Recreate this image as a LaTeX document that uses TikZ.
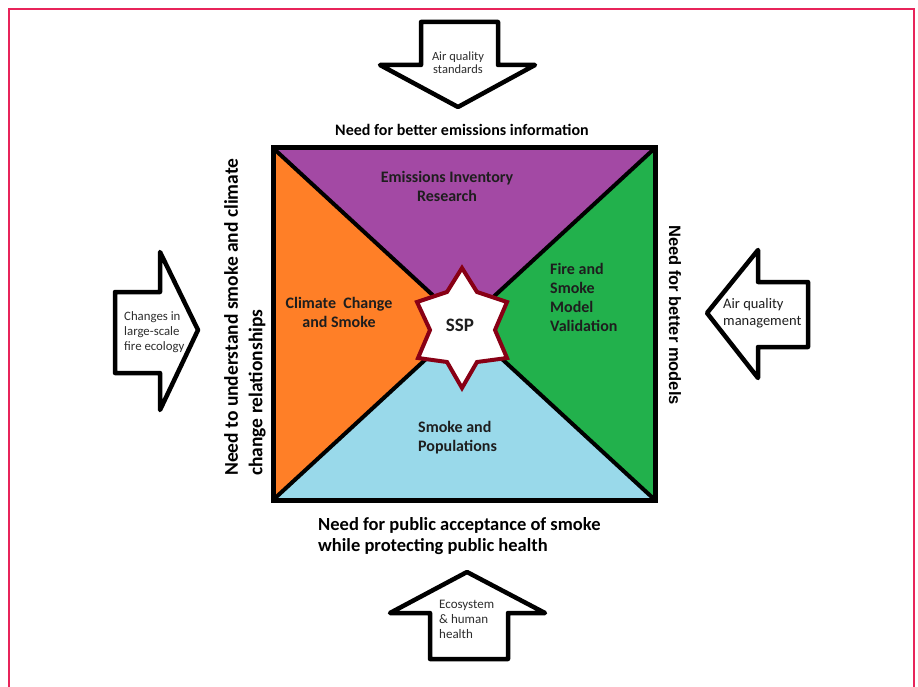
\documentclass[tikz,border=0pt]{standalone}
\usepackage{fontspec}
\setmainfont{Carlito}
\newfontfamily\arialfam{Liberation Sans}
\definecolor{framecol}{RGB}{232,36,90}
\definecolor{purp}{RGB}{163,73,164}
\definecolor{orng}{RGB}{255,127,39}
\definecolor{grn}{RGB}{34,177,76}
\definecolor{lblue}{RGB}{153,217,234}
\definecolor{starred}{RGB}{136,0,21}
\definecolor{txtdark}{RGB}{30,30,30}
\definecolor{txtgray}{RGB}{45,45,45}
\tikzset{
  bigarrow/.style={draw=black,line width=4.5pt,line join=round,fill=white},
  sqlabel/.style={inner sep=0pt,text=txtdark,font=\bfseries\fontsize{16}{19}\selectfont},
  arrlabel/.style={inner sep=0pt,text=txtgray},
  needlabel/.style={inner sep=0pt,text=black,font=\bfseries\fontsize{18.5}{21}\selectfont},
  diag/.style={line width=4pt,black},
}
\begin{document}
\begin{tikzpicture}[x=1pt,y=-1pt]
\useasboundingbox (0,0) rectangle (918,687);
\begin{scope}
\clip (0,0) rectangle (918,687);
\draw[framecol,line width=2pt] (9,700) -- (9,9) -- (914,9) -- (914,700);
\end{scope}

% square
\coordinate (TL) at (273,148);
\coordinate (TR) at (655,148);
\coordinate (BR) at (655,500);
\coordinate (BL) at (273,500);
\coordinate (O) at (464,324);
\fill[purp] (TL) -- (TR) -- (O) -- cycle;
\fill[grn] (TR) -- (BR) -- (O) -- cycle;
\fill[lblue] (BR) -- (BL) -- (O) -- cycle;
\fill[orng] (BL) -- (TL) -- (O) -- cycle;
\draw[diag] (TL) -- (BR);
\draw[diag] (TR) -- (BL);
\draw[line width=5pt,line join=miter] (TL) rectangle (BR);

% star
\begin{scope}[shift={(462,328)}]
\draw[starred,line width=4pt,fill=white,line join=miter]
  (0,-60) -- (15,-36) -- (45,-26) -- (33,2) -- (45,30) -- (15,34) --
  (0,60) -- (-15,34) -- (-44,30) -- (-32,2) -- (-45,-26) -- (-15,-36) -- cycle;
\end{scope}
\node[inner sep=0pt,text=txtdark,font=\bfseries\fontsize{19}{22}\selectfont] (ssp) at (460,325) {SSP};

% square labels
\node[sqlabel,align=center] (emis) at (447,186) {Emissions Inventory\\Research};
\node[sqlabel,align=center] (clim) at (339,312) {Climate\ \ Change\\and Smoke};
\node[sqlabel,align=left,anchor=west] (fire) at (550,297) {Fire and\\Smoke\\Model\\Validation};
\node[sqlabel,align=left,anchor=west] (pops) at (418,438) {Smoke and\\Populations};

% need labels
\node[inner sep=0pt,font=\bfseries\fontsize{16}{19}\selectfont] (needtop) at (462,130) {Need for better emissions information};
\node[needlabel,align=left,anchor=west] (needbot) at (318,536) {Need for public acceptance of smoke\\while protecting public health};
\node[inner sep=0pt,rotate=90,anchor=west,align=left,font=\bfseries\fontsize{19.5}{24.5}\selectfont] (needleft) at (245,476) {Need to understand smoke and climate\\change relationships};
\node[inner sep=0pt,rotate=-90,font=\arialfam\bfseries\fontsize{16.5}{19}\selectfont] (needright) at (675,315) {Need for better models};

% arrows
\draw[bigarrow] (421,22) -- (498,22) -- (498,65) -- (535,65) -- (458,107) -- (380,65) -- (421,65) -- cycle;
\node[arrlabel,align=center,font=\fontsize{12.5}{12.7}\selectfont] (aqs) at (458,63) {Air quality\\standards};

\draw[bigarrow] (115,292) -- (160,292) -- (160,252) -- (198,330) -- (160,410) -- (160,373) -- (115,373) -- cycle;
\node[arrlabel,align=left,anchor=west,font=\fontsize{12.8}{15}\selectfont] (chg) at (124,332) {Changes in\\large-scale\\fire ecology};

\draw[bigarrow] (808,282) -- (758,282) -- (758,250) -- (707,313) -- (758,378) -- (758,347) -- (808,347) -- cycle;
\node[arrlabel,align=left,anchor=west,text=txtdark,font=\fontsize{14.5}{17}\selectfont] (aqm) at (723,313) {Air quality\\management};

\draw[bigarrow] (430,659) -- (430,613) -- (390,613) -- (467,572) -- (545,613) -- (508,613) -- (508,659) -- cycle;
\node[arrlabel,align=left,anchor=west,font=\fontsize{13}{15}\selectfont] (eco) at (439,619) {Ecosystem\\\&\ human\\health};
\end{tikzpicture}
\end{document}
